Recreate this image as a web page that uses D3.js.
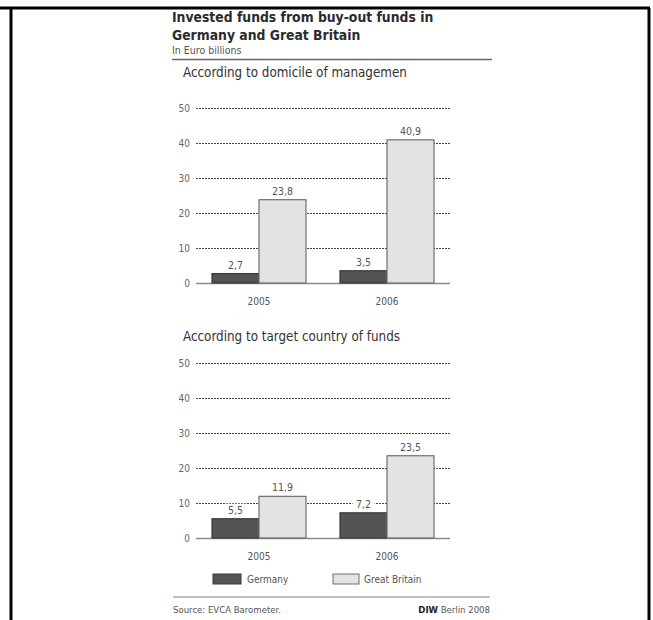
<!DOCTYPE html>
<html>
<head>
<meta charset="utf-8">
<script src="https://cdn.jsdelivr.net/npm/d3@7"></script>
<style>
  body { margin: 0; background: #fff; }
  svg text { font-family: "Liberation Sans Narrow", "DejaVu Sans Condensed", "Open Sans", sans-serif; }
</style>
</head>
<body>
<div id="chart"></div>
<script>
// ----------------------------------------------------------------------

var years = ["2005", "2006"];
var series = ["Germany", "Great Britain"];
var domicileValues = { "Germany": [2.7, 3.5], "Great Britain": [23.8, 40.9] };
var targetValues = { "Germany": [5.5, 7.2], "Great Britain": [11.9, 23.5] };
var yTicks = [0, 10, 20, 30, 40, 50];
var panelTitles = ["According to domicile of managemen", "According to target country of funds"];

var seriesFill = { "Germany": "#545454", "Great Britain": "#e3e3e3" };
var seriesStroke = { "Germany": "#3a3a3a", "Great Britain": "#6e6e6e" };

var comma = d3.formatLocale({ decimal: ",", thousands: ".", grouping: [3], currency: ["", ""] }).format(".1f");

// ----------------------------------------------------------------------

var width = 653, height = 620;

var svg = d3.select("#chart")
            .append("svg")
            .attr("width", width)
            .attr("height", height);

// frame of the table cell around the chart
svg.append("line").attr("x1", 0).attr("x2", 650).attr("y1", 8).attr("y2", 8)
   .attr("stroke", "#000").attr("stroke-width", 3);
svg.append("line").attr("x1", 11).attr("x2", 11).attr("y1", 8).attr("y2", height)
   .attr("stroke", "#000").attr("stroke-width", 3);
svg.append("line").attr("x1", 649).attr("x2", 649).attr("y1", 8).attr("y2", height)
   .attr("stroke", "#000").attr("stroke-width", 3);

// title block
svg.append("text").attr("x", 172).attr("y", 22)
   .attr("font-size", 13.8).attr("font-weight", "bold").attr("fill", "#2b2b2b")
   .style("font-family", "'DejaVu Sans Condensed', sans-serif")
   .text("Invested funds from buy-out funds in");
svg.append("text").attr("x", 172).attr("y", 40)
   .attr("font-size", 13.8).attr("font-weight", "bold").attr("fill", "#2b2b2b")
   .style("font-family", "'DejaVu Sans Condensed', sans-serif")
   .text("Germany and Great Britain");
svg.append("text").attr("x", 172).attr("y", 54)
   .attr("font-size", 10.5).attr("fill", "#555")
   .text("In Euro billions");
svg.append("line").attr("x1", 172).attr("x2", 492).attr("y1", 59.5).attr("y2", 59.5)
   .attr("stroke", "#666").attr("stroke-width", 1.5);

// ----------------------------------------------------------------------

var x = d3.scaleBand().domain(years).range([195, 451]).padding(0);
var xs = d3.scaleBand().domain(series).range([-47, 47]);

function drawPanel(title, values, base, titleY) {
    var y = d3.scaleLinear().domain([0, 50]).range([base, base - 175]);
    var g = svg.append("g");

    g.append("text").attr("x", 183).attr("y", titleY)
     .attr("font-size", 13.3).attr("fill", "#333")
     .text(title);

    var axis = g.append("g")
                .attr("transform", "translate(196,0)")
                .call(d3.axisLeft(y).tickValues(yTicks).tickSize(-254).tickPadding(6));
    axis.select(".domain").remove();
    axis.selectAll(".tick line")
        .attr("stroke-dasharray", function(d) { return d === 0 ? null : "2,1"; })
        .attr("stroke-width", function(d) { return d === 0 ? 1.5 : 1; })
        .attr("stroke", function(d) { return d === 0 ? "#8a8a8a" : "#444"; });
    axis.selectAll(".tick text")
        .attr("font-size", 10).attr("fill", "#666")
        .style("font-family", "'Liberation Sans Narrow', 'DejaVu Sans Condensed', sans-serif");

    var rows = [];
    years.forEach(function(yr, i) {
        series.forEach(function(s) { rows.push({ year: yr, series: s, value: values[s][i] }); });
    });

    g.selectAll("rect.bar")
     .data(rows)
     .enter()
     .append("rect")
     .attr("class", "bar")
     .attr("x", function(d) { return x(d.year) + x.bandwidth() / 2 + xs(d.series); })
     .attr("y", function(d) { return y(d.value); })
     .attr("width", xs.bandwidth())
     .attr("height", function(d) { return base - y(d.value); })
     .attr("fill", function(d) { return seriesFill[d.series]; })
     .attr("stroke", function(d) { return seriesStroke[d.series]; })
     .attr("stroke-width", 1.2);

    var labels = g.selectAll("g.vlabel")
                  .data(rows)
                  .enter()
                  .append("g")
                  .attr("class", "vlabel")
                  .attr("transform", function(d) {
                      return "translate(" + (x(d.year) + x.bandwidth() / 2 + xs(d.series) + xs.bandwidth() / 2) + "," + (y(d.value) - 5) + ")";
                  });
    labels.append("rect")
          .attr("x", -11).attr("y", -10).attr("width", 22).attr("height", 11)
          .attr("fill", "#fff");
    labels.append("text")
          .attr("text-anchor", "middle")
          .attr("font-size", 10.5).attr("fill", "#555")
          .text(function(d) { return comma(d.value); });

    g.selectAll("text.year")
     .data(years)
     .enter()
     .append("text")
     .attr("class", "year")
     .attr("x", function(d) { return x(d) + x.bandwidth() / 2; })
     .attr("y", base + 22)
     .attr("text-anchor", "middle")
     .attr("font-size", 10).attr("fill", "#555")
     .text(function(d) { return d; });
}

drawPanel(panelTitles[0], domicileValues, 283, 77);
drawPanel(panelTitles[1], targetValues, 538, 341);

// legend
var legend = svg.selectAll("g.legend")
                .data(series)
                .enter()
                .append("g")
                .attr("class", "legend")
                .attr("transform", function(d, i) { return "translate(" + (i === 0 ? 213 : 333) + ",574)"; });
legend.append("rect")
      .attr("width", function(d, i) { return i === 0 ? 28 : 26; })
      .attr("height", 10)
      .attr("fill", function(d) { return seriesFill[d]; })
      .attr("stroke", function(d) { return seriesStroke[d]; });
legend.append("text")
      .attr("x", function(d, i) { return i === 0 ? 34 : 31; })
      .attr("y", 9)
      .attr("font-size", 10).attr("fill", "#555")
      .text(function(d) { return d; });

// footer
svg.append("line").attr("x1", 173).attr("x2", 490).attr("y1", 597).attr("y2", 597)
   .attr("stroke", "#aaa").attr("stroke-width", 1.5);
svg.append("text").attr("x", 173).attr("y", 613)
   .attr("font-size", 9.5).attr("fill", "#555")
   .text("Source: EVCA Barometer.");
var credit = svg.append("text").attr("x", 490).attr("y", 613)
   .attr("text-anchor", "end").attr("font-size", 9.5).attr("fill", "#555");
credit.append("tspan").attr("font-weight", "bold").attr("fill", "#222").text("DIW");
credit.append("tspan").text(" Berlin 2008");
</script>
</body>
</html>
